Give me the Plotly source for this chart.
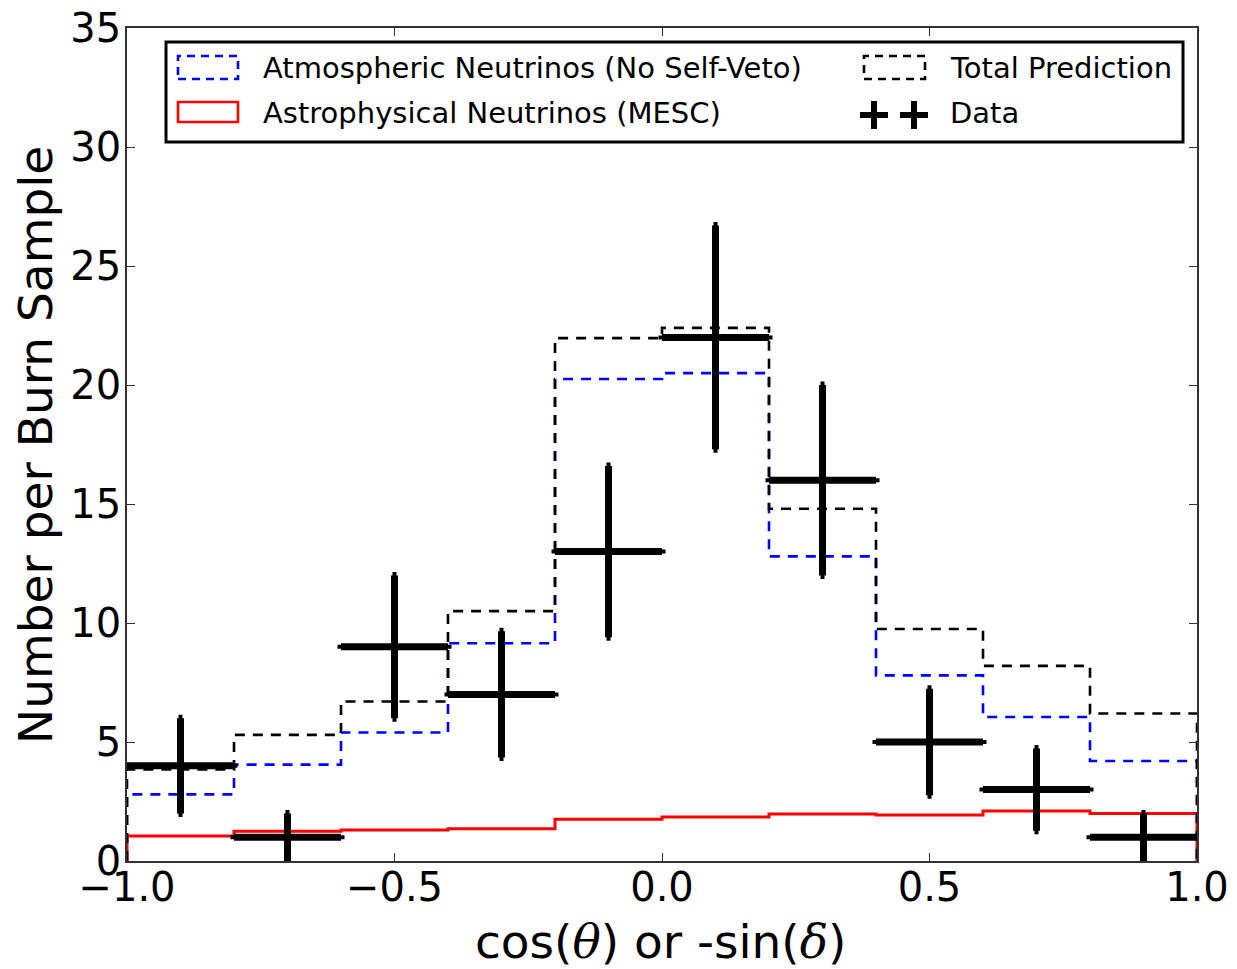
import plotly.graph_objects as go

# ---------------- data ----------------
bin_edges = [-1.0, -0.8, -0.6, -0.4, -0.2, 0.0, 0.2, 0.4, 0.6, 0.8, 1.0]
atmospheric = [2.8, 4.05, 5.4, 9.15, 20.25, 20.5, 12.8, 7.8, 6.05, 4.2]
astrophysical = [1.05, 1.25, 1.3, 1.35, 1.75, 1.85, 1.97, 1.93, 2.1, 2.0]
total_prediction = [3.85, 5.3, 6.7, 10.5, 21.97, 22.4, 14.8, 9.75, 8.2, 6.2]

data_x = [-0.9, -0.7, -0.5, -0.3, -0.1, 0.1, 0.3, 0.5, 0.7, 0.9]
data_y = [4, 1, 9, 7, 13, 22, 16, 5, 3, 1]
data_yerr = [2.0, 1.0, 3.0, 2.65, 3.6, 4.7, 4.0, 2.24, 1.73, 1.0]
data_xerr = [0.1] * 10

x_ticks = [-1.0, -0.5, 0.0, 0.5, 1.0]
x_ticktext = ["\u22121.0", "\u22120.5", "0.0", "0.5", "1.0"]
y_ticks = [0, 5, 10, 15, 20, 25, 30, 35]

FONT = "DejaVu Sans"


def step_outline(edges, vals):
    xs = [edges[0]] + list(edges)
    ys = [0] + list(vals) + [0]
    return xs, ys


fig = go.Figure()

for vals, color, dash, width in [
    (atmospheric, "#0000ff", "10px,8px", 2.6),
    (astrophysical, "#ff0000", "solid", 3),
    (total_prediction, "#000000", "10px,8px", 2.6),
]:
    xs, ys = step_outline(bin_edges, vals)
    fig.add_trace(go.Scatter(x=xs, y=ys, mode="lines", line_shape="hv",
                             line=dict(color=color, dash=dash, width=width),
                             showlegend=False, hoverinfo="skip"))

fig.add_trace(go.Scatter(
    x=data_x, y=data_y, mode="markers",
    marker=dict(size=1, color="black"),
    error_y=dict(type="data", array=data_yerr, color="black", thickness=7, width=2),
    error_x=dict(type="data", array=data_xerr, color="black", thickness=7, width=2),
    showlegend=False))

# ---------------- layout helpers (page pixel -> paper) ----------------
OFF = 8  # body margin of the html page
L, R, T, B = 127, 1197, 28, 861  # plot area in page pixels
W, H = 1237 - OFF, 969 - OFF


def px(x):
    return (x - L) / (R - L)


def py(y):
    return (B - y) / (B - T)


shapes = []
annotations = []

# legend frame
shapes.append(dict(type="rect", xref="paper", yref="paper",
                   x0=px(166), x1=px(1183), y0=py(142), y1=py(42),
                   line=dict(color="black", width=3), fillcolor="white", layer="above"))
# legend patches
shapes.append(dict(type="rect", xref="paper", yref="paper",
                   x0=px(178), x1=px(238), y0=py(79), y1=py(56),
                   line=dict(color="#0000ff", width=2.6, dash="8px,6px"), layer="above"))
shapes.append(dict(type="rect", xref="paper", yref="paper",
                   x0=px(178), x1=px(238), y0=py(122), y1=py(102),
                   line=dict(color="#ff0000", width=2.6), layer="above"))
shapes.append(dict(type="rect", xref="paper", yref="paper",
                   x0=px(864), x1=px(925), y0=py(79), y1=py(56),
                   line=dict(color="black", width=2.6, dash="8px,6px"), layer="above"))
for cx in (874, 914):
    shapes.append(dict(type="line", xref="paper", yref="paper",
                       x0=px(cx - 14), x1=px(cx + 14), y0=py(115), y1=py(115),
                       line=dict(color="black", width=6), layer="above"))
    shapes.append(dict(type="line", xref="paper", yref="paper",
                       x0=px(cx), x1=px(cx), y0=py(101), y1=py(129),
                       line=dict(color="black", width=6), layer="above"))

for tx, ty, label in [
    (261, 68, "Atmospheric Neutrinos (No Self-Veto)"),
    (261, 113, "Astrophysical Neutrinos (MESC)"),
    (948, 68, "Total Prediction"),
    (948, 113, "Data"),
]:
    annotations.append(dict(x=px(tx), y=py(ty), xref="paper", yref="paper",
                            text=label, showarrow=False, xanchor="left", yanchor="middle",
                            font=dict(family=FONT, size=29, color="black")))

# axis titles
annotations.append(dict(
    x=px(660), y=py(941), xref="paper", yref="paper",
    text='cos(<span style="font-family:DejaVu Serif"><i>\u03b8</i></span>) or -sin(<span style="font-family:DejaVu Serif"><i>\u03b4</i></span>)',
    showarrow=False, xanchor="center", yanchor="middle",
    font=dict(family=FONT, size=47, color="black")))
annotations.append(dict(
    x=px(35), y=py(445), xref="paper", yref="paper",
    text="Number per Burn Sample", textangle=-90,
    showarrow=False, xanchor="center", yanchor="middle",
    font=dict(family=FONT, size=47, color="black")))

axis_common = dict(showgrid=False, zeroline=False, showline=True, linecolor="#333333",
                   linewidth=1.5, mirror="ticks", ticks="inside", ticklen=8,
                   tickcolor="#333333", tickwidth=1.2, ticklabeloverflow="allow",
                   automargin=False,
                   tickfont=dict(family=FONT, size=40, color="black"))

fig.update_layout(
    width=W, height=H,
    margin=dict(l=L - OFF, r=(W + OFF) - R, t=T - OFF, b=(H + OFF) - B, pad=0),
    plot_bgcolor="white", paper_bgcolor="white",
    xaxis=dict(range=[-1, 1], tickvals=x_ticks, ticktext=x_ticktext,
               ticklabelstandoff=-10, **axis_common),
    yaxis=dict(range=[0, 35], tickvals=y_ticks, ticklabelstandoff=-4, **axis_common),
    shapes=shapes, annotations=annotations, showlegend=False,
)

fig.write_html("out.html")
